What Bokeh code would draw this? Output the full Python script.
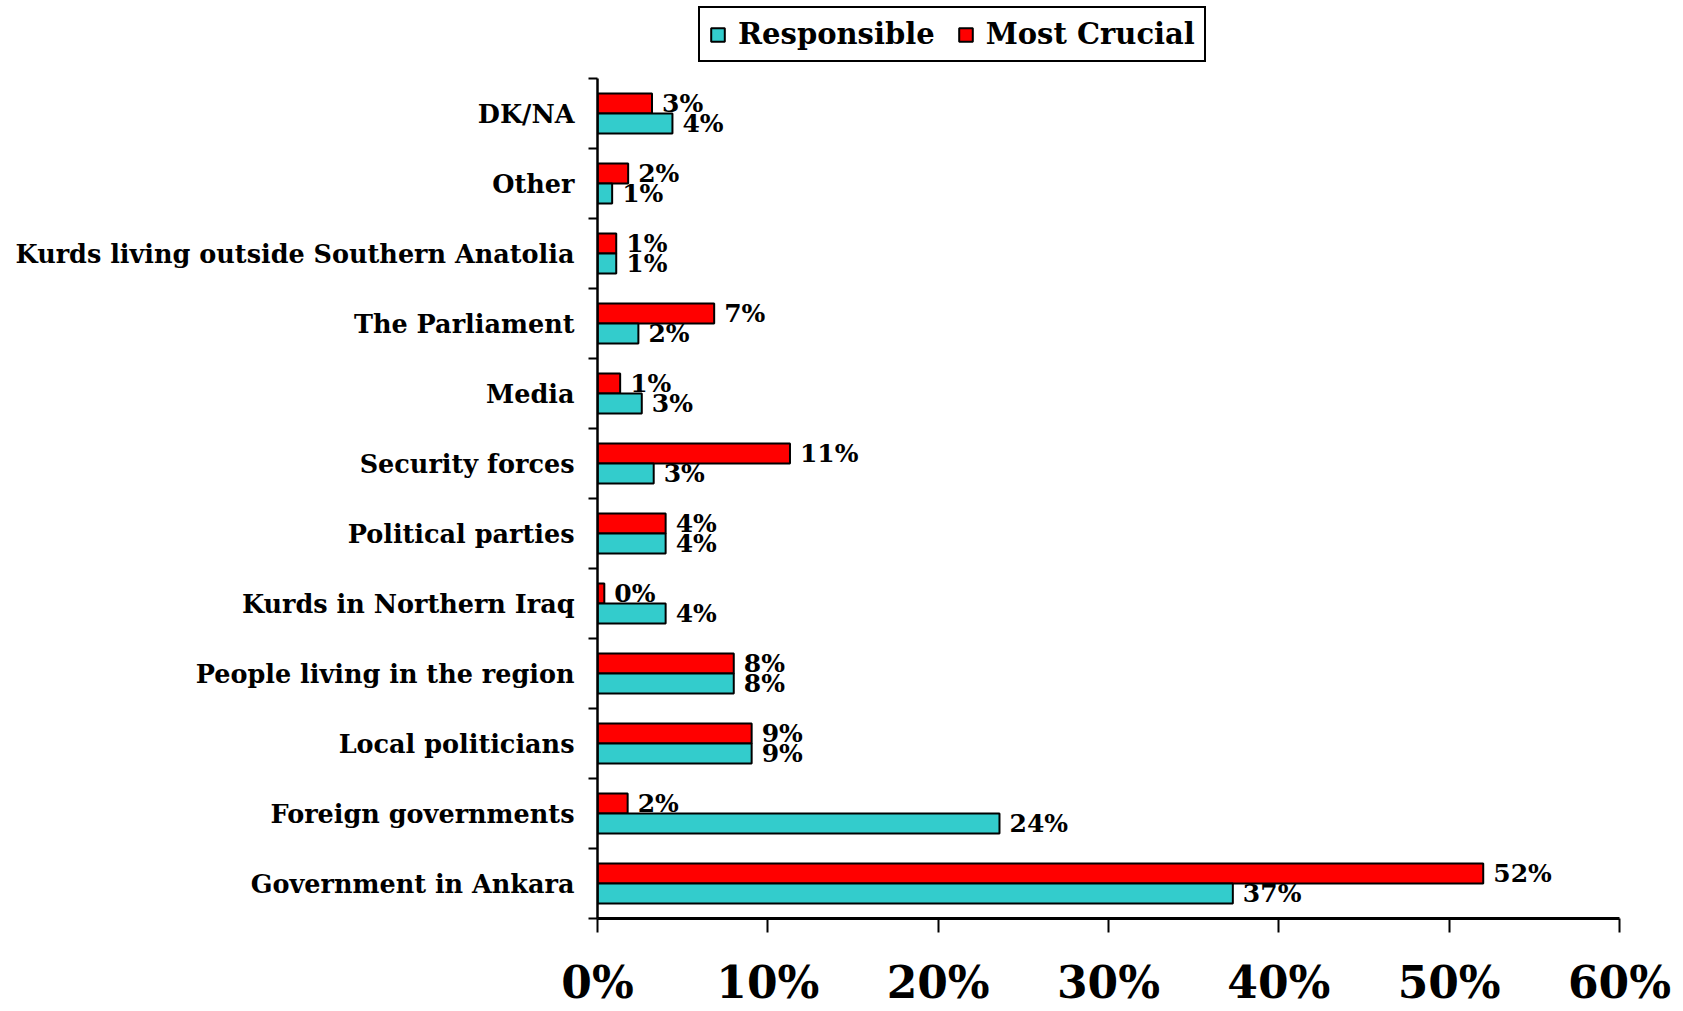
from bokeh.plotting import figure
from bokeh.models import FixedTicker, Legend, LegendItem, ColumnDataSource, Range1d
from bokeh.embed import file_html
from bokeh.resources import INLINE
from bokeh.core.properties import value

# ---- data (bottom to top) ----
categories = [
    "Government in Ankara",
    "Foreign governments",
    "Local politicians",
    "People living in the region",
    "Kurds in Northern Iraq",
    "Political parties",
    "Security forces",
    "Media",
    "The Parliament",
    "Kurds living outside Southern Anatolia",
    "Other",
    "DK/NA",
]
responsible = [37.3, 23.6, 9.05, 8.0, 4.0, 4.0, 3.3, 2.6, 2.4, 1.1, 0.86, 4.4]
most_crucial = [52.0, 1.77, 9.05, 8.0, 0.4, 4.0, 11.3, 1.33, 6.85, 1.1, 1.8, 3.2]
responsible_labels = ["37%", "24%", "9%", "8%", "4%", "4%", "3%", "3%", "2%", "1%", "1%", "4%"]
crucial_labels = ["52%", "2%", "9%", "8%", "0%", "4%", "11%", "1%", "7%", "1%", "2%", "3%"]
x_ticks = [0, 10, 20, 30, 40, 50, 60]
x_tick_labels = ["0%", "10%", "20%", "30%", "40%", "50%", "60%"]

TEAL = "#33CCCC"
RED = "#FF0000"
FONT = "DejaVu Serif"

n = len(categories)
centers = [i + 0.5 for i in range(n)]
bar_h = 0.2857
off = bar_h / 2
top_pad = 78 / 70.0  # extra room above the last category for the legend

src_r = ColumnDataSource(dict(y=[c - off for c in centers], v=responsible, t=responsible_labels))
src_c = ColumnDataSource(dict(y=[c + off for c in centers], v=most_crucial, t=crucial_labels))

p = figure(
    width=1683, height=1011,
    x_range=Range1d(0, 60), y_range=Range1d(0, n + top_pad),
    output_backend="svg", toolbar_location=None,
    min_border_left=597, min_border_right=64,
    min_border_top=0, min_border_bottom=93,
)
p.outline_line_color = None
p.xgrid.visible = False
p.ygrid.visible = False
p.background_fill_color = "white"

r_red = p.hbar(y="y", left=0, right="v", height=bar_h, source=src_c,
               fill_color=RED, line_color="black", line_width=2)
r_teal = p.hbar(y="y", left=0, right="v", height=bar_h, source=src_r,
                fill_color=TEAL, line_color="black", line_width=2)

for src in (src_c, src_r):
    p.text(x="v", y="y", text="t", source=src, x_offset=10,
           text_align="left", text_baseline="middle",
           text_font=value(FONT), text_font_style="bold",
           text_font_size="25px", text_color="black")

# x axis
xa = p.xaxis[0]
xa.ticker = FixedTicker(ticks=x_ticks, minor_ticks=[])
xa.major_label_overrides = {t: l for t, l in zip(x_ticks, x_tick_labels)}
xa.major_label_text_font = FONT
xa.major_label_text_font_style = "bold"
xa.major_label_text_font_size = "44px"
xa.major_label_text_color = "black"
xa.major_label_standoff = 24
xa.major_tick_out = 14
xa.major_tick_in = 0
xa.major_tick_line_width = 2
xa.major_tick_line_color = "black"
xa.axis_line_width = 3
xa.axis_line_color = "black"

# y axis
ya = p.yaxis[0]
ya.bounds = (0, n)
ya.ticker = FixedTicker(ticks=centers, minor_ticks=list(range(n + 1)))
ya.major_label_overrides = {c: l for c, l in zip(centers, categories)}
ya.major_label_text_font = FONT
ya.major_label_text_font_style = "bold"
ya.major_label_text_font_size = "25.5px"
ya.major_label_text_color = "black"
ya.major_label_standoff = 14
ya.major_tick_out = 0
ya.major_tick_in = 0
ya.major_tick_line_color = None
ya.minor_tick_out = 9
ya.minor_tick_in = 0
ya.minor_tick_line_color = "black"
ya.minor_tick_line_width = 2
ya.axis_line_width = 2.5
ya.axis_line_color = "black"

legend = Legend(
    items=[LegendItem(label="Responsible", renderers=[r_teal]),
           LegendItem(label="Most Crucial", renderers=[r_red])],
    orientation="horizontal", location=(101, 856),
    border_line_color="black", border_line_width=2, border_line_alpha=1,
    label_text_font=FONT, label_text_font_style="bold",
    label_text_font_size="29px", label_text_color="black",
    glyph_width=17, glyph_height=17, label_standoff=12,
    spacing=22, padding=9, margin=0,
    background_fill_color="white", background_fill_alpha=1,
)
p.add_layout(legend, "center")

open("out.html", "w").write(file_html(p, INLINE))
